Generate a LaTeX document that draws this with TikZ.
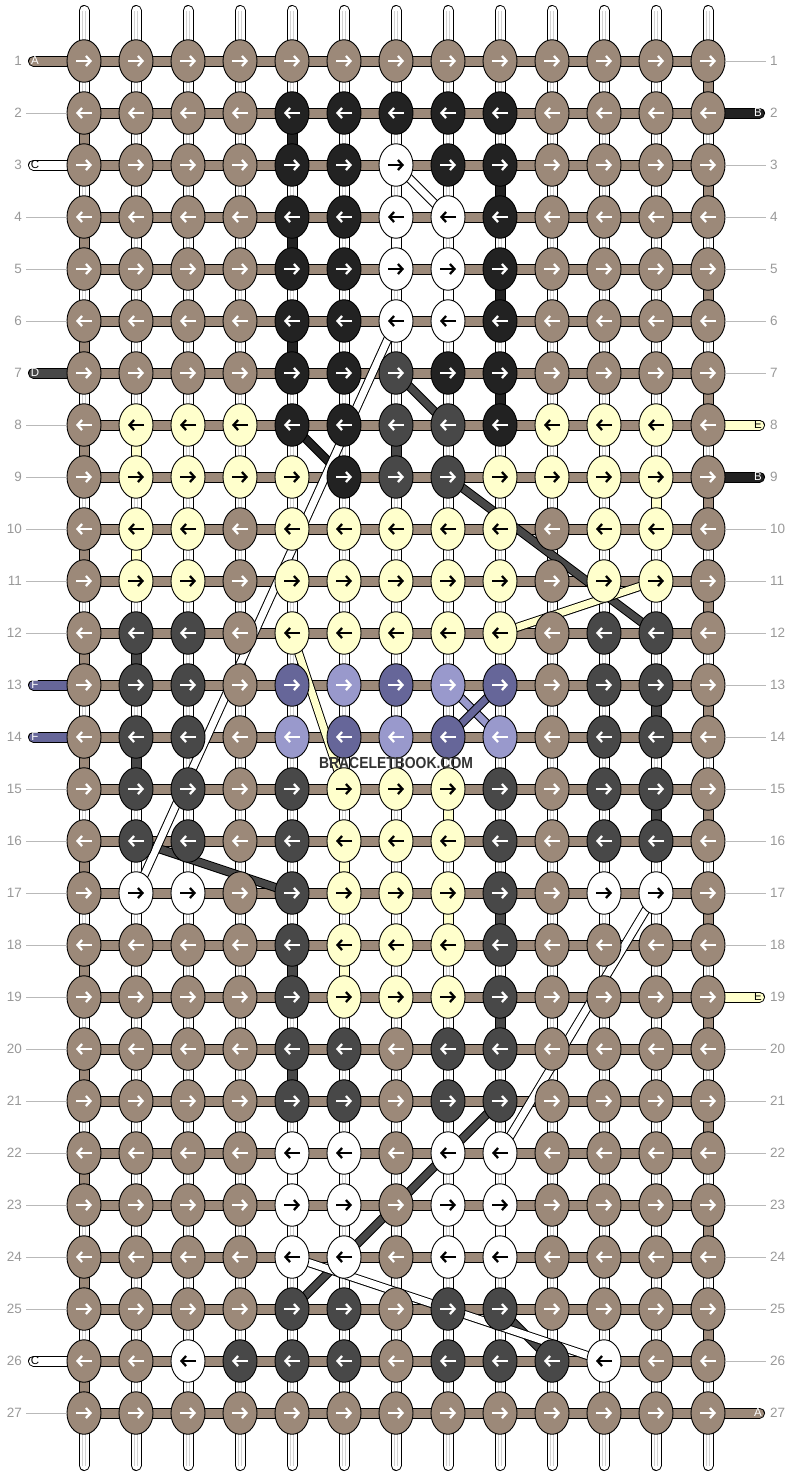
\documentclass[tikz,border=0pt]{standalone}
\usepackage{fontspec}
\setmainfont{Liberation Sans}
\usetikzlibrary{shapes.geometric,arrows.meta,backgrounds}
\definecolor{kt}{HTML}{9C8979}
\definecolor{kk}{HTML}{222222}
\definecolor{kw}{HTML}{FFFFFF}
\definecolor{kd}{HTML}{484848}
\definecolor{ky}{HTML}{FFFFCC}
\definecolor{kp}{HTML}{666699}
\definecolor{kl}{HTML}{9999CC}
\colorlet{at}{white}
\colorlet{ak}{white}
\colorlet{ad}{white}
\colorlet{ap}{white}
\colorlet{al}{white}
\colorlet{aw}{black}
\colorlet{ay}{black}

\begin{document}
\begin{tikzpicture}[x=1pt,y=-1pt,
    knot/.style={ellipse,draw=black,line width=.9pt,minimum width=34pt,minimum height=42.5pt,inner sep=0pt},
    arr/.style={line width=2.3pt,-{Straight Barb[length=4.5pt,width=10pt]}},
    warp/.style={draw=black,line width=1pt,double=white,double distance=9pt,line cap=round},
    thread/.style={draw=gray!35,line width=.8pt,double=white,double distance=2.6pt},
    band/.style={draw=black,line width=1pt,double distance=9pt},
    carry/.style={draw=black,line width=1pt,double distance=7pt},
    num/.style={text=gray!80,font=\fontsize{13.5}{13.5}\selectfont,inner sep=0pt},
    lbl/.style={font=\fontsize{11.5}{11.5}\selectfont,inner sep=0pt},
    lead/.style={draw=gray!55,line width=1pt}]
\useasboundingbox (0,0) rectangle (792,1476);

% knots, one list per row
\foreach \knots [count=\r] in {
    {t,t,t,t,t,t,t,t,t,t,t,t,t},
    {t,t,t,t,k,k,k,k,k,t,t,t,t},
    {t,t,t,t,k,k,w,k,k,t,t,t,t},
    {t,t,t,t,k,k,w,w,k,t,t,t,t},
    {t,t,t,t,k,k,w,w,k,t,t,t,t},
    {t,t,t,t,k,k,w,w,k,t,t,t,t},
    {t,t,t,t,k,k,d,k,k,t,t,t,t},
    {t,y,y,y,k,k,d,d,k,y,y,y,t},
    {t,y,y,y,y,k,d,d,y,y,y,y,t},
    {t,y,y,t,y,y,y,y,y,t,y,y,t},
    {t,y,y,t,y,y,y,y,y,t,y,y,t},
    {t,d,d,t,y,y,y,y,y,t,d,d,t},
    {t,d,d,t,p,l,p,l,p,t,d,d,t},
    {t,d,d,t,l,p,l,p,l,t,d,d,t},
    {t,d,d,t,d,y,y,y,d,t,d,d,t},
    {t,d,d,t,d,y,y,y,d,t,d,d,t},
    {t,w,w,t,d,y,y,y,d,t,w,w,t},
    {t,t,t,t,d,y,y,y,d,t,t,t,t},
    {t,t,t,t,d,y,y,y,d,t,t,t,t},
    {t,t,t,t,d,d,t,d,d,t,t,t,t},
    {t,t,t,t,d,d,t,d,d,t,t,t,t},
    {t,t,t,t,w,w,t,w,w,t,t,t,t},
    {t,t,t,t,w,w,t,w,w,t,t,t,t},
    {t,t,t,t,w,w,t,w,w,t,t,t,t},
    {t,t,t,t,d,d,t,d,d,t,t,t,t},
    {t,t,w,d,d,d,t,d,d,d,w,t,t},
    {t,t,t,t,t,t,t,t,t,t,t,t,t}}
  \foreach \k [count=\c] in \knots {
    \node[knot,fill=k\k] (k-\r-\c) at ({32+52*\c},{9+52*\r}) {};
    \ifodd\r
      \draw[arr,draw=a\k] ([xshift=-8pt]k-\r-\c.center) -- ([xshift=8pt]k-\r-\c.center);
    \else
      \draw[arr,draw=a\k] ([xshift=8pt]k-\r-\c.center) -- ([xshift=-8pt]k-\r-\c.center);
    \fi
  }

\begin{scope}[on background layer]
  \fill[white] (0,0) rectangle (792,1476);
  \foreach \c in {1,...,13} {
    \coordinate (top-\c) at ({32+52*\c},10.5);
    \coordinate (bot-\c) at ({32+52*\c},1465.5);
    \draw[warp] (top-\c) -- (bot-\c);
    \draw[thread] (top-\c) -- (bot-\c);
  }
  \foreach \r in {1,...,27}
    \draw[band,double=kt] (k-\r-1.center) -- (k-\r-13.center);
  % turns at the edges
  \foreach \r in {2,4,...,26} {
    \pgfmathtruncatemacro\s{\r+1}
    \draw[band,double=kt] (k-\r-1.center) -- (k-\s-1.center);
  }
  \foreach \r in {1,3,...,25} {
    \pgfmathtruncatemacro\s{\r+1}
    \draw[band,double=kt] (k-\r-13.center) -- (k-\s-13.center);
  }
  \foreach \r/\c/\k in {2/5/k,4/5/k,6/5/k,3/9/k,5/9/k,7/9/k,4/7/w,5/8/w,22/5/w,23/9/w,
      8/7/d,12/2/d,14/2/d,13/12/d,15/12/d,17/9/d,19/9/d,18/5/d,20/5/d,
      8/2/y,10/2/y,9/12/y,15/8/y,17/8/y,16/6/y,18/6/y} {
    \pgfmathtruncatemacro\s{\r+1}
    \draw[band,double=k\k] (k-\r-\c.center) -- (k-\s-\c.center);
  }
  % carried strings
  \foreach \src/\dst/\k in {7-7/8-8/d,9-8/12-12/d,16-2/17-5/d,21-9/25-5/d,25-9/26-10/d,
      8-5/9-6/k,11-12/12-9/y,12-5/15-6/y,13-8/14-9/l,13-9/14-8/p,
      3-7/4-8/w,6-7/17-2/w,17-12/22-9/w,24-5/26-11/w}
    \draw[carry,double=k\k] (k-\src.center) -- (k-\dst.center);
  % string ends
  \foreach \r/\n/\k in {1/A/t,3/C/w,7/D/d,13/F/p,14/F/p,26/C/w} {
    \coordinate (endL-\r) at (33.5,{9+52*\r});
    \draw[band,line cap=round,double=k\k] (endL-\r) -- (k-\r-1.center);
    \node[lbl,text=a\k] (lbL-\r) at (35,{9+52*\r}) {\n};
  }
  \foreach \r/\n/\k in {2/B/k,8/E/y,9/B/k,19/E/y,27/A/t} {
    \coordinate (endR-\r) at (759.5,{9+52*\r});
    \draw[band,line cap=round,double=k\k] (endR-\r) -- (k-\r-13.center);
    \node[lbl,text=a\k] (lbR-\r) at (758,{9+52*\r}) {\n};
  }
\end{scope}

% row numbers
\foreach \r in {1,...,27} {
  \node[num,anchor=east] (nL-\r) at (22,{9+52*\r}) {\r};
  \node[num,anchor=west] (nR-\r) at (770,{9+52*\r}) {\r};
}
\foreach \r in {2,4,5,6,8,9,10,11,12,15,16,17,18,19,20,21,22,23,24,25,27}
  \draw[lead] ([xshift=4pt]nL-\r.east) -- (k-\r-1.west);
\foreach \r in {1,3,4,5,6,7,10,11,12,13,14,15,16,17,18,20,21,22,23,24,25,26}
  \draw[lead] (k-\r-13.east) -- ([xshift=-4pt]nR-\r.west);

\node[font=\bfseries\fontsize{16}{16}\selectfont,text=black!80,xscale=.87] (mark) at (396,763) {BRACELETBOOK.COM};
\end{tikzpicture}
\end{document}
